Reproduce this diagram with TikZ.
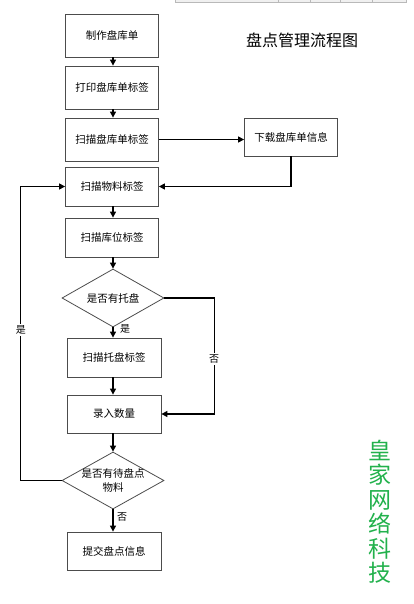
\documentclass[tikz,border=0pt]{standalone}
\usepackage{fontspec}
\setmainfont{Noto Sans CJK SC}
\usetikzlibrary{arrows.meta,shapes.geometric}
\definecolor{wmgreen}{RGB}{34,177,76}
\tikzset{
  stepbox/.style={draw=black!70, line width=0.8pt, fill=white, minimum width=93pt, minimum height=#1, inner sep=0pt, font=\fontsize{10.5}{12}\selectfont},
  stepbox/.default=43pt,
  dia/.style={diamond, draw=black!70, line width=0.8pt, minimum width=102pt, minimum height=#1, inner sep=0pt},
  conn/.style={line width=1.2pt, -{Triangle[length=6pt,width=6pt]}},
  lbl/.style={font=\fontsize{10}{12}\selectfont, inner sep=1.5pt}
}
\begin{document}
\begin{tikzpicture}[x=1pt,y=-1pt]
\useasboundingbox (0,0) rectangle (413,604);
% table fragment at top
\fill[gray!12] (175,0) rectangle (406,2.5);
\draw[gray!55, line width=0.6pt] (175,0) -- (175,2.5) -- (406,2.5) -- (406,0);
\foreach \xx in {278,310,340,372} \draw[gray!55, line width=0.6pt] (\xx,0) -- (\xx,2.5);
% title
\node[font=\fontsize{16}{18}\selectfont] (title) at (302,40) {盘点管理流程图};
% nodes
\node[stepbox] (b1) at (112,35.5) {制作盘库单};
\node[stepbox] (b2) at (112,87.5) {打印盘库单标签};
\node[stepbox] (b3) at (112,139.5) {扫描盘库单标签};
\node[stepbox=38pt] (dl) at (291,137) {下载盘库单信息};
\node[stepbox=39pt] (b4) at (112,186.5) {扫描物料标签};
\node[stepbox=39pt] (b5) at (112,237.5) {扫描库位标签};
\node[dia=58pt, label={[font=\fontsize{10.5}{12}\selectfont]center:是否有托盘}] (d1) at (113,298) {};
\node[stepbox=39pt, minimum width=94pt] (b6) at (114,357.5) {扫描托盘标签};
\node[stepbox=38pt, minimum width=94pt] (b7) at (114,414) {录入数量};
\node[dia=57pt, label={[font=\fontsize{10.5}{14}\selectfont, align=center]center:是否有待盘点\\物料}] (d2) at (113,480.5) {};
\node[stepbox=38pt, minimum width=94pt] (b8) at (114,551) {提交盘点信息};
% connectors
\draw[conn] (b1.south -| 113,0) -- (b2.north -| 113,0);
\draw[conn] (b2.south -| 113,0) -- (b3.north -| 113,0);
\draw[conn] (b3.east) -- (b3.east -| dl.west);
\draw[conn] (dl.south) |- (b4.east);
\draw[conn] (b4.south -| 113,0) -- (b5.north -| 113,0);
\draw[conn] (b5.south -| 113,0) -- (d1.north);
\draw[conn] (d1.south) -- (b6.north -| d1.south);
\node[lbl] (yes1) at (125,329) {是};
\draw[conn] (b6.south -| 113,0) -- (b7.north -| 113,0);
\draw[conn] (d1.east) -- ++(50,0) coordinate (n1) -- (n1 |- b7.east) -- (b7.east);
\node[lbl, fill=white] (no1) at (214,359) {否};
\draw[conn] (b7.south -| 113,0) -- (d2.north);
\draw[conn] (d2.west) -- ++(-41,0) coordinate (n2) -- (n2 |- b4.west) -- (b4.west);
\node[lbl, fill=white] (yes2) at (21,330) {是};
\draw[conn] (d2.south) -- (b8.north -| d2.south);
\node[lbl] (no2) at (122,517) {否};
% watermark text
\node[text=wmgreen, font=\fontsize{23}{24.5}\selectfont, align=center, inner sep=0pt] (wm) at (380,512) {皇\\家\\网\\络\\科\\技};
\end{tikzpicture}
\end{document}
